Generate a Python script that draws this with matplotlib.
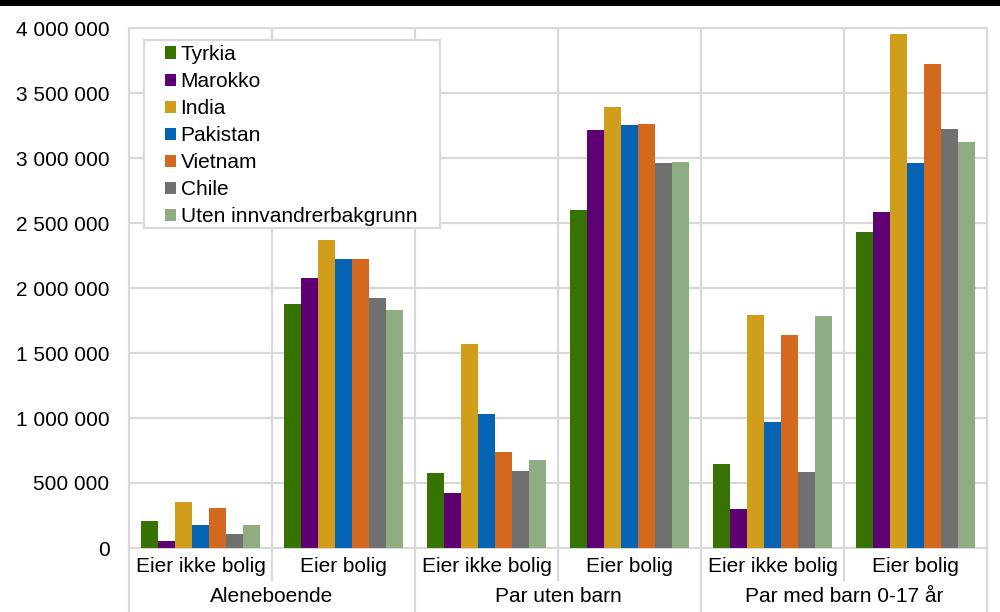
import matplotlib
matplotlib.use("Agg")
import matplotlib.pyplot as plt
from matplotlib.patches import Rectangle
from matplotlib.lines import Line2D
import matplotlib.ticker as mticker

plt.rcParams['font.family'] = ['Liberation Sans', 'DejaVu Sans']

subcategories = ["Eier ikke bolig", "Eier bolig", "Eier ikke bolig", "Eier bolig", "Eier ikke bolig", "Eier bolig"]
groups = ["Aleneboende", "Par uten barn", "Par med barn 0-17 år"]
series_names = ["Tyrkia", "Marokko", "India", "Pakistan", "Vietnam", "Chile", "Uten innvandrerbakgrunn"]

tyrkia = [210000, 1877000, 577000, 2600000, 646000, 2428000]
marokko = [51000, 2080000, 420000, 3213000, 300000, 2582000]
india = [351000, 2367000, 1571000, 3392000, 1792000, 3951000]
pakistan = [175000, 2221000, 1028000, 3251000, 967000, 2959000]
vietnam = [310000, 2221000, 736000, 3264000, 1636000, 3723000]
chile = [108000, 1921000, 590000, 2959000, 585000, 3225000]
uten = [177000, 1831000, 674000, 2967000, 1787000, 3125000]

series_values = [tyrkia, marokko, india, pakistan, vietnam, chile, uten]
colors = ["#377300", "#5c0073", "#d09e1a", "#0563b4", "#d2691e", "#707070", "#8fac82"]
yticks = [0, 500000, 1000000, 1500000, 2000000, 2500000, 3000000, 3500000, 4000000]

W, H = 1000, 612
fig = plt.figure(figsize=(W / 100, H / 100), dpi=100)
ax = fig.add_axes([129 / W, 1 - 548 / H, (987 - 129) / W, (548 - 28) / H])

grid_c = "#d9d9d9"
fs = 15

bw = 0.118
xs = list(range(len(subcategories)))
for i, (name, vals, c) in enumerate(zip(series_names, series_values, colors)):
    off = (i - 3) * bw
    ax.bar([x + off for x in xs], vals, width=bw, color=c, label=name, linewidth=0, zorder=3)

ax.set_xlim(-0.5, len(subcategories) - 0.5)
ax.set_ylim(0, 4000000)
ax.set_yticks(yticks)
ax.yaxis.set_major_formatter(mticker.FuncFormatter(lambda v, p: f"{int(v):,}".replace(",", " ")))
ax.tick_params(axis='y', length=0, pad=14, labelsize=fs)
ax.set_xticks(xs)
ax.set_xticklabels([])
ax.tick_params(axis='x', length=0)
ax.grid(axis='y', color=grid_c, linewidth=1.6, zorder=0)
for b in [x + 0.5 for x in xs[:-1]]:
    ax.axvline(b, color=grid_c, linewidth=1.6, zorder=0)
for s in ax.spines.values():
    s.set_color(grid_c)
    s.set_linewidth(1.6)

tr = ax.get_xaxis_transform()
axh = 548 - 28
for x, lab in zip(xs, subcategories):
    ax.text(x, (548 - 567) / axh, lab, transform=tr, ha='center', va='center', fontsize=fs)
for g, lab in enumerate(groups):
    ax.text(2 * g + 0.5, (548 - 597) / axh, lab, transform=tr, ha='center', va='center', fontsize=fs)

# separators below axis
for b in [-0.5 + k for k in range(len(subcategories) + 1)]:
    idx = int(round(b + 0.5))
    y_end = (548 - 612) / axh if idx % 2 == 0 else (548 - 580) / axh
    ax.add_line(Line2D([b, b], [0, y_end], transform=tr, color=grid_c, linewidth=1.6, clip_on=False))

# legend frame
fig.add_artist(Rectangle((144 / W, 1 - 228 / H), (440 - 144) / W, (228 - 40) / H, transform=fig.transFigure,
                         facecolor='white', edgecolor=grid_c, linewidth=1.6, zorder=4))

leg = ax.legend(loc='upper left', bbox_to_anchor=(165 / W, 1 - 45 / H), bbox_transform=fig.transFigure,
                borderaxespad=0, fontsize=fs, frameon=False,
                handlelength=0.53, handleheight=0.53, handletextpad=0.22, labelspacing=0.385,
                borderpad=0)
leg.set_zorder(5)
fig.add_artist(leg)
for t in leg.get_texts():
    t.set_color('black')

# top black bar
fig.add_artist(Rectangle((0, 1 - 6 / H), 1, 6 / H, transform=fig.transFigure, color='black', linewidth=0))

fig.savefig("out.png", dpi=100)
